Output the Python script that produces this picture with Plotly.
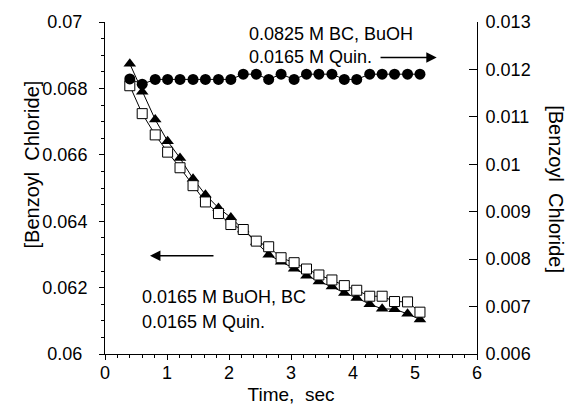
import plotly.graph_objects as go

# ---- data ----
time_s = [0.40, 0.60, 0.81, 1.01, 1.21, 1.42, 1.62, 1.83, 2.03, 2.23, 2.44, 2.64,
          2.84, 3.05, 3.25, 3.45, 3.66, 3.86, 4.06, 4.27, 4.47, 4.67, 4.88, 5.08]

# 0.0165 M BuOH, BC / 0.0165 M Quin. (left axis)
bc_triangles = [0.06874, 0.06790, 0.06706, 0.06641, 0.06590, 0.06528, 0.06480, 0.06440,
                0.06411, 0.06375, 0.06337, 0.06299, 0.06278, 0.06257, 0.06236, 0.06218,
                0.06203, 0.06184, 0.06169, 0.06150, 0.06136, 0.06135, 0.06121, 0.06104]
bc_squares = [0.06808, 0.06724, 0.06660, 0.06608, 0.06561, 0.06507, 0.06458, 0.06423,
              0.06390, 0.06375, 0.06340, 0.06323, 0.06290, 0.06275, 0.06256, 0.06238,
              0.06223, 0.06206, 0.06192, 0.06174, 0.06174, 0.06158, 0.06157, 0.06126]
# 0.0825 M BC, BuOH / 0.0165 M Quin. (right axis)
bc_circles = [0.01180, 0.01169, 0.01179, 0.01179, 0.01179, 0.01179, 0.01179, 0.01179,
              0.01179, 0.01190, 0.01190, 0.01179, 0.01190, 0.01179, 0.01190, 0.01190,
              0.01190, 0.01179, 0.01179, 0.01190, 0.01190, 0.01190, 0.01190, 0.01190]

x_ticks = [0, 1, 2, 3, 4, 5, 6]
x_labels = ["0", "1", "2", "3", "4", "5", "6"]
yl_ticks = [0.06, 0.062, 0.064, 0.066, 0.068, 0.07]
yl_labels = ["0.06\u00a0", "0.062", "0.064", "0.066", "0.068", "0.07\u00a0"]
yr_ticks = [0.006, 0.007, 0.008, 0.009, 0.01, 0.011, 0.012, 0.013]
yr_labels = ["0.006", "0.007", "0.008", "0.009", "0.01", "0.011", "0.012", "0.013"]

FONT = "Liberation Sans, Arial, sans-serif"

fig = go.Figure()
fig.add_trace(go.Scatter(
    x=time_s, y=bc_triangles, mode="lines+markers",
    line=dict(color="black", width=1),
    marker=dict(symbol="triangle-up", size=11, color="black"),
    showlegend=False))
fig.add_trace(go.Scatter(
    x=time_s, y=bc_squares, mode="lines+markers",
    line=dict(color="black", width=1),
    marker=dict(symbol="square", size=10, color="white",
                line=dict(color="black", width=1)),
    showlegend=False))
fig.add_trace(go.Scatter(
    x=time_s, y=bc_circles, mode="lines+markers", yaxis="y2",
    line=dict(color="black", width=1),
    marker=dict(symbol="circle", size=11, color="black"),
    showlegend=False))

fig.update_layout(
    width=570, height=414,
    margin=dict(l=105, r=93, t=22, b=56),
    paper_bgcolor="white", plot_bgcolor="white",
    font=dict(family=FONT, size=18, color="black"),
    xaxis=dict(range=[0, 6], tickvals=x_ticks, ticktext=x_labels,
               ticks="outside", ticklen=5, tickcolor="black",
               minor=dict(dtick=0.2, ticks="outside", ticklen=3, tickcolor="black"),
               showline=True, linecolor="black", linewidth=1,
               showgrid=False, zeroline=False, ticklabelstandoff=-3,
               title=dict(text="Time,\u00a0 sec", font=dict(size=19), standoff=6)),
    yaxis=dict(range=[0.06, 0.07], tickvals=yl_ticks, ticktext=yl_labels,
               ticks="outside", ticklen=5, tickcolor="black",
               minor=dict(dtick=0.0005, ticks="outside", ticklen=3, tickcolor="black"),
               showline=True, linecolor="black", linewidth=1,
               showgrid=False, zeroline=False, ticklabelstandoff=8),
    yaxis2=dict(range=[0.006, 0.013], tickvals=yr_ticks, ticktext=yr_labels,
                overlaying="y", side="right",
                ticks="inside", ticklen=8, tickcolor="black",
                showline=True, linecolor="black", linewidth=1,
                showgrid=False, zeroline=False, ticklabelstandoff=4),
)

annotations = [
    dict(text="[Benzoyl\u00a0 Chloride]", xref="paper", yref="paper",
         x=-0.196, y=0.571, textangle=-90, showarrow=False,
         font=dict(size=20), xanchor="center", yanchor="middle"),
    dict(text="[Benzoyl\u00a0 Chloride]", xref="paper", yref="paper",
         x=1.212, y=0.497, textangle=90, showarrow=False,
         font=dict(size=20), xanchor="center", yanchor="middle"),
    dict(text="0.0825 M BC, BuOH", xref="paper", yref="paper",
         x=0.382, y=0.964, showarrow=False, xanchor="left", yanchor="middle"),
    dict(text="0.0165 M Quin.", xref="paper", yref="paper",
         x=0.382, y=0.896, showarrow=False, xanchor="left", yanchor="middle"),
    dict(text="0.0165 M BuOH, BC", xref="paper", yref="paper",
         x=0.094, y=0.171, showarrow=False, xanchor="left", yanchor="middle"),
    dict(text="0.0165 M Quin.", xref="paper", yref="paper",
         x=0.094, y=0.095, showarrow=False, xanchor="left", yanchor="middle"),
    # arrows
    dict(text="", x=5.35, y=0.06893, xref="x", yref="y",
         ax=4.42, ay=0.06893, axref="x", ayref="y",
         showarrow=True, arrowhead=2, arrowsize=1.6, arrowwidth=1.3, arrowcolor="black"),
    dict(text="", x=0.726, y=0.06296, xref="x", yref="y",
         ax=1.774, ay=0.06296, axref="x", ayref="y",
         showarrow=True, arrowhead=2, arrowsize=1.6, arrowwidth=1.3, arrowcolor="black"),
]
fig.update_layout(annotations=annotations)

fig.write_html("out.html", config={"displayModeBar": False},
               post_script="document.body.style.margin='0px';")
